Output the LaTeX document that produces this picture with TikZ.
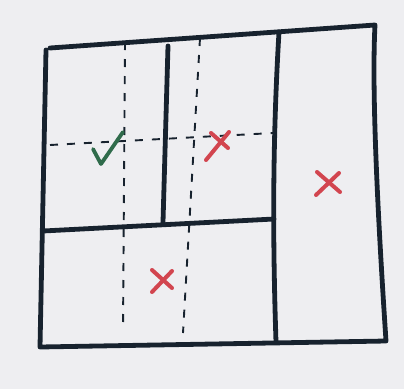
\documentclass[tikz,border=0pt]{standalone}
\usepackage{xcolor}
\usepackage{tikz}
\definecolor{paper}{HTML}{EEEEF1}
\definecolor{ink}{HTML}{17222E}
\definecolor{markred}{HTML}{D2454F}
\definecolor{markgreen}{HTML}{2F6B4B}

\begin{document}
\begin{tikzpicture}[
  x=1pt, y=-1pt,
  frame/.style={draw=ink, line width=4.8pt, line cap=round, line join=round},
  guide/.style={draw=ink, line width=1.9pt, dash pattern=on 8pt off 9pt},
  cross/.style={draw=markred, line width=4pt, line cap=round},
  tick/.style={draw=markgreen, line width=3.8pt, line cap=round, line join=round}
]
\fill[paper] (0,0) rectangle (404,389);
\useasboundingbox (0,0) rectangle (404,389);
\coordinate (topleft) at (50,48);
\coordinate (topright) at (375,25);
\coordinate (botright) at (386,341);
\coordinate (botleft) at (40,347);
\coordinate (lefttop) at (46,50);
\coordinate (coltop) at (279,32);
\coordinate (colbot) at (276,342);
\coordinate (midleft) at (43,231);
\coordinate (midright) at (274,219);
\coordinate (innertop) at (168,46);
\coordinate (innerbot) at (163,222);
\draw[guide] (125,42) -- (123,330);
\draw[guide] (200,38) -- (183,333);
\draw[guide] (50,145) -- (273,133);
\draw[frame] (topleft) -- (topright) .. controls (371,100) and (380,250) .. (botright) -- (botleft) -- (lefttop);
\draw[frame] (coltop) .. controls (272,150) and (273,250) .. (colbot);
\draw[frame] (midleft) -- (midright);
\draw[frame] (innertop) -- (innerbot);
\draw[tick] (93,149) -- (101,164) -- (123,132);
\draw[cross] (211,133) -- (228,148);
\draw[cross] (229,132) -- (206,160);
\draw[cross] (317,172) -- (340,192);
\draw[cross] (339,173) -- (316,195);
\draw[cross] (152,270) -- (172,288);
\draw[cross] (172,271) -- (152,292);
\end{tikzpicture}
\end{document}
